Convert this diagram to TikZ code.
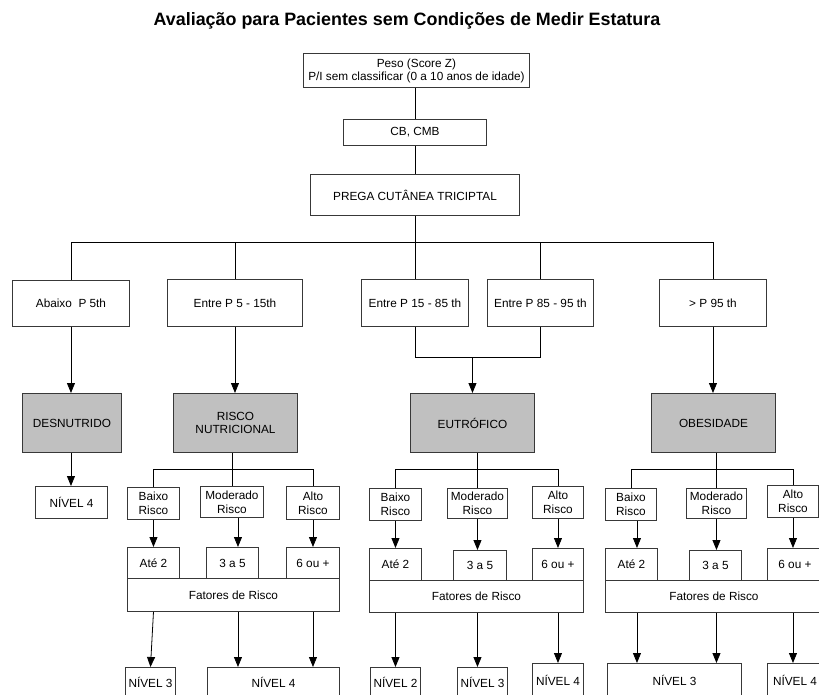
\documentclass[tikz,border=0pt]{standalone}
\usepackage{fontspec}
\setmainfont{Liberation Sans}
\usetikzlibrary{arrows.meta,calc}
\definecolor{boxgray}{HTML}{C0C0C0}
\tikzset{
  box/.style={draw=black!78, line width=0.95pt, fill=white, inner sep=0pt, align=center,
              font=\fontsize{11.8}{13}\selectfont},
  shaded/.style={fill=boxgray},
  twoline/.style={font=\fontsize{11.8}{14}\selectfont},
  link/.style={draw=black, line width=0.8pt},
  arr/.style={link, -{Triangle[width=8pt,length=10pt]}},
}
% box given by its top-left and bottom-right corners (picture units = px)
\newcommand\flowbox[7][]{%
  \node[box,#1,anchor=north west,minimum width={(#5-#3)*1pt},minimum height={(#6-#4)*1pt}]
    (#2) at (#3,#4) {#7};}
\begin{document}
\begin{tikzpicture}[x=1pt,y=-1pt]
\useasboundingbox (0,0) rectangle (819,695);
\clip (0,0) rectangle (819,695);

\node[anchor=base, font=\bfseries\fontsize{17.9}{20}\selectfont] (title) at (407,26)
  {Avaliação para Pacientes sem Condições de Medir Estatura};

% top chain
\flowbox{peso}{303}{53}{529}{87}{Peso (Score Z)\\P/I sem classificar (0 a 10 anos de idade)}
\flowbox{cb}{343}{119}{486}{145}{CB, CMB}
\flowbox{prega}{310}{174}{519}{215}{PREGA CUTÂNEA TRICIPTAL}

% percentile ranges
\flowbox{abaixo}{12}{280}{129}{326}{Abaixo~~P 5th}
\flowbox{p5}{167}{279}{302}{326}{Entre P 5 - 15th}
\flowbox{p15}{361}{279}{468}{326}{Entre P 15 - 85 th}
\flowbox{p85}{487}{279}{593}{326}{Entre P 85 - 95 th}
\flowbox{p95}{659}{279}{766}{326}{> P 95 th}

% diagnoses
\flowbox[shaded]{desn}{22}{393}{121}{452}{DESNUTRIDO}
\flowbox[shaded]{risco}{173}{393}{297}{452}{RISCO\\NUTRICIONAL}
\flowbox[shaded]{eutro}{410}{393}{534}{452}{EUTRÓFICO}
\flowbox[shaded]{obes}{651}{393}{775}{452}{OBESIDADE}

\flowbox{n4a}{35}{486}{107}{518}{NÍVEL 4}

% risk branches: risco nutricional
\flowbox[twoline]{b1}{127}{487}{179}{519}{Baixo\\Risco}
\flowbox[twoline]{m1}{200}{486}{263}{517}{Moderado\\Risco}
\flowbox[twoline]{a1}{286}{486}{339}{519}{Alto\\Risco}
\flowbox{ate1}{127}{547}{179}{578}{Até 2}
\flowbox{tr1}{206}{547}{258}{578}{3 a 5}
\flowbox{six1}{286}{547}{339}{578}{6 ou +}
\flowbox{fat1}{127}{578}{339}{611}{Fatores de Risco}
\flowbox{n3a}{125}{667}{175}{697}{NÍVEL 3}
\flowbox{n4b}{207}{667}{339}{697}{NÍVEL 4}

% risk branches: eutrofico
\flowbox[twoline]{b2}{369}{488}{421}{520}{Baixo\\Risco}
\flowbox[twoline]{m2}{447}{488}{507}{518}{Moderado\\Risco}
\flowbox[twoline]{a2}{532}{486}{583}{518}{Alto\\Risco}
\flowbox{ate2}{369}{548}{421}{580}{Até 2}
\flowbox{tr2}{453}{550}{506}{580}{3 a 5}
\flowbox{six2}{532}{548}{583}{580}{6 ou +}
\flowbox{fat2}{369}{580}{583}{612}{Fatores de Risco}
\flowbox{n2}{370}{667}{420}{697}{NÍVEL 2}
\flowbox{n3b}{457}{667}{507}{697}{NÍVEL 3}
\flowbox{n4c}{532}{663}{583}{697}{NÍVEL 4}

% risk branches: obesidade
\flowbox[twoline]{b3}{605}{488}{656}{520}{Baixo\\Risco}
\flowbox[twoline]{m3}{686}{488}{746}{518}{Moderado\\Risco}
\flowbox[twoline]{a3}{767}{485}{818}{517}{Alto\\Risco}
\flowbox{ate3}{605}{548}{657}{580}{Até 2}
\flowbox{tr3}{689}{550}{741}{580}{3 a 5}
\flowbox{six3}{767}{548}{822}{580}{6 ou +}
\flowbox{fat3}{605}{580}{822}{612}{Fatores de Risco}
\flowbox{n3c}{607}{663}{741}{697}{NÍVEL 3}
\flowbox{n4d}{767}{663}{822}{697}{NÍVEL 4}

% helper levels and arrow columns
\coordinate (busy) at (0,242);
\coordinate (joiny) at (0,357);
\coordinate (bar) at (0,469);
\coordinate (c1b) at ([xshift=6pt]m1.south);
\coordinate (c3a) at ([xshift=6pt]b3.south);

% top chain connectors
\draw[link] (peso.south -| cb.north) -- (cb.north);
\draw[link] (cb.south) -- (prega.north);
\draw[link] (prega.south) -- (p15.north);
\draw[link] (abaixo.north) -- (abaixo.north |- busy) -- (p95.north |- busy) -- (p95.north);
\draw[link] (p5.north) -- (p5.north |- busy);
\draw[link] (p85.north) -- (p85.north |- busy);
\draw[link] (p15.south) -- (p15.south |- joiny) -- (p85.south |- joiny) -- (p85.south);

% to diagnoses
\draw[arr] (abaixo.south) -- (abaixo.south |- desn.north);
\draw[arr] (p5.south) -- (p5.south |- risco.north);
\draw[arr] (eutro.north |- joiny) -- (eutro.north);
\draw[arr] (p95.south) -- (p95.south |- obes.north);
\draw[arr] (desn.south -| abaixo.south) -- (n4a.north -| abaixo.south);

% risco nutricional branch
\draw[link] (risco.south -| m1.north) -- (m1.north);
\draw[link] (b1.north) -- (b1.north |- bar) -- (a1.north |- bar) -- (a1.north);
\draw[arr] (b1.south) -- (ate1.north);
\draw[arr] (m1.south -| c1b) -- (tr1.north -| c1b);
\draw[arr] (a1.south) -- (six1.north);
\draw[arr] (fat1.south -| b1.south) -- (n3a.north);
\draw[arr] (fat1.south -| c1b) -- (n4b.north -| c1b);
\draw[arr] (fat1.south -| a1.south) -- (n4b.north -| a1.south);

% eutrofico branch
\draw[link] (eutro.south -| m2.north) -- (m2.north);
\draw[link] (b2.north) -- (b2.north |- bar) -- (a2.north |- bar) -- (a2.north);
\draw[arr] (b2.south) -- (ate2.north);
\draw[arr] (m2.south) -- (tr2.north -| m2.south);
\draw[arr] (a2.south) -- (six2.north);
\draw[arr] (fat2.south -| b2.south) -- (n2.north);
\draw[arr] (fat2.south -| m2.south) -- (n3b.north -| m2.south);
\draw[arr] (fat2.south -| a2.south) -- (n4c.north);

% obesidade branch
\draw[link] (obes.south -| m3.north) -- (m3.north);
\draw[link] (b3.north) -- (b3.north |- bar) -- (a3.north |- bar) -- (a3.north);
\draw[arr] (b3.south -| c3a) -- (ate3.north -| c3a);
\draw[arr] (m3.south) -- (tr3.north -| m3.south);
\draw[arr] (a3.south) -- (six3.north -| a3.south);
\draw[arr] (fat3.south -| c3a) -- (n3c.north -| c3a);
\draw[arr] (fat3.south -| m3.south) -- (n3c.north -| m3.south);
\draw[arr] (fat3.south -| a3.south) -- (n4d.north -| a3.south);
\end{tikzpicture}
\end{document}
